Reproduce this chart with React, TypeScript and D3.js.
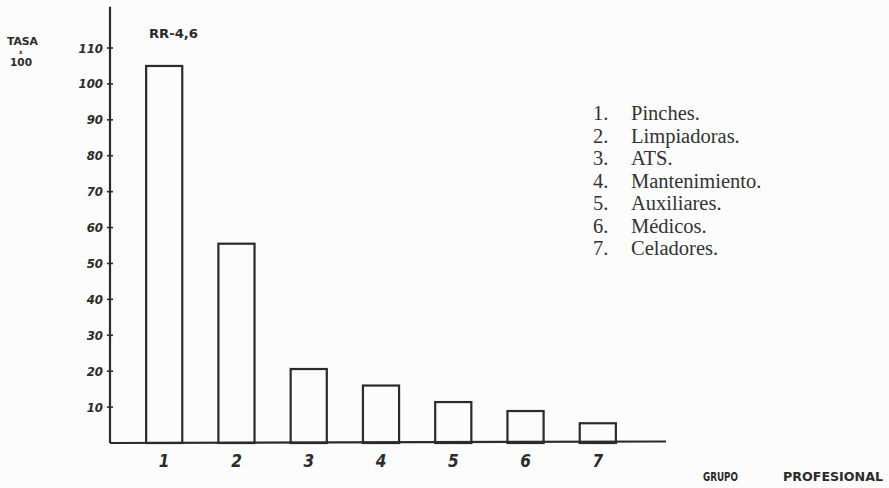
import * as d3 from "d3";

const groups = ["1", "2", "3", "4", "5", "6", "7"];
const rates = [105, 55.5, 20.6, 16, 11.4, 8.9, 5.5];
const yTicks = [10, 20, 30, 40, 50, 60, 70, 80, 90, 100, 110];
const groupNames = [
  "Pinches.",
  "Limpiadoras.",
  "ATS.",
  "Mantenimiento.",
  "Auxiliares.",
  "Médicos.",
  "Celadores.",
];

const W = 889;
const H = 488;
const ink = "#2b2b2b";
const hand = "'Liberation Sans Narrow', 'DejaVu Sans Condensed', 'Liberation Sans', sans-serif";

const App: React.FC = () => {
  const y = d3.scaleLinear().domain([0, 110]).range([443, 48]);
  const x = d3
    .scaleBand<string>()
    .domain(groups)
    .range([110, 652])
    .paddingInner(0.5)
    .paddingOuter(0.5);

  const axisX = x.range()[0];
  const axisEnd = 666;
  const axisTop = y(121.5);

  return (
    <div style={{ position: "absolute", left: 0, top: 0 }}>
      <svg width={W} height={H} style={{ display: "block", background: "#fcfcfc" }}>
        {/* y axis */}
        <line x1={axisX} x2={axisX} y1={y(0)} y2={axisTop} stroke={ink} strokeWidth={2.2} />
        {yTicks.map((t) => (
          <g key={t} transform={`translate(${axisX},${y(t)})`}>
            <line x1={-3} x2={3} stroke={ink} strokeWidth={1.6} />
            <text
              x={-7}
              dy="0.35em"
              textAnchor="end"
              fontFamily={hand}
              fontWeight="bold"
              fontStyle="italic"
              fontSize={13}
              fill={ink}
            >
              {t}
            </text>
          </g>
        ))}

        {/* bars */}
        {groups.map((g, i) => (
          <rect
            key={g}
            x={x(g)}
            y={y(rates[i])}
            width={x.bandwidth()}
            height={y(0) - y(rates[i])}
            fill="none"
            stroke={ink}
            strokeWidth={2.2}
          />
        ))}

        {/* x axis */}
        <line x1={axisX} x2={axisEnd} y1={y(0)} y2={y(0) - 1.5} stroke={ink} strokeWidth={2.2} />
        {groups.map((g) => (
          <text
            key={g}
            x={(x(g) ?? 0) + x.bandwidth() / 2}
            y={y(0) + 24}
            textAnchor="middle"
            fontFamily={hand}
            fontWeight="bold"
            fontStyle="italic"
            fontSize={17}
            fill={ink}
          >
            {g}
          </text>
        ))}

        {/* handwritten labels */}
        <g fontFamily={hand} fontWeight="bold" fill={ink}>
          <text x={149} y={38} fontSize={13} textLength={49} lengthAdjust="spacingAndGlyphs">RR-4,6</text>
          <text x={7} y={45} fontSize={11} textLength={31} lengthAdjust="spacingAndGlyphs">TASA</text>
          <text x={19} y={54} fontSize={6}>x</text>
          <text x={10} y={66} fontSize={11} textLength={22} lengthAdjust="spacingAndGlyphs">100</text>
          <text x={703} y={481} fontSize={13} textLength={35} lengthAdjust="spacingAndGlyphs">GRUPO</text>
          <text x={783} y={481} fontSize={13} textLength={100} lengthAdjust="spacingAndGlyphs">PROFESIONAL</text>
        </g>

        {/* legend */}
        <g fontFamily="'Liberation Serif', 'Times New Roman', serif" fontSize={20.5} fill="#333">
          {groupNames.map((name, i) => (
            <g key={name} transform={`translate(0,${120 + i * 22.5})`}>
              <text x={593}>{groups[i]}.</text>
              <text x={631}>{name}</text>
            </g>
          ))}
        </g>
      </svg>
    </div>
  );
};

export default App;
